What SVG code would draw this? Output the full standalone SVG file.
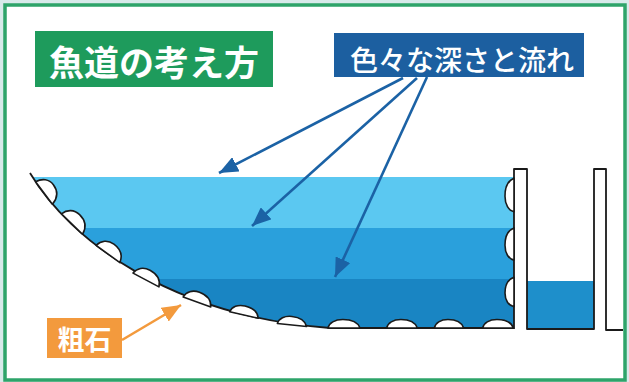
<svg xmlns="http://www.w3.org/2000/svg" xmlns:xlink="http://www.w3.org/1999/xlink" width="629" height="382" viewBox="0 0 629 382">
  <style>
    .jp { font-family: "Noto Sans CJK JP", "Noto Sans CJK SC", sans-serif; fill: #ffffff; }
    .outline { fill: none; stroke: #1a1a1a; stroke-width: 1.8; stroke-linejoin: round; }
    .stone { fill: #ffffff; stroke: #1a1a1a; stroke-width: 1.6; stroke-linejoin: round; vector-effect: non-scaling-stroke; }
    .blue-arrow { stroke: #1b62a5; stroke-width: 2.6; fill: none; marker-end: url(#head-blue); }
    .orange-arrow { stroke: #f39a3d; stroke-width: 2.6; fill: none; marker-end: url(#head-orange); }
  </style>
  <defs>
    <marker id="head-blue" markerUnits="userSpaceOnUse" markerWidth="20" markerHeight="16" refX="19" refY="8" orient="auto">
      <path d="M0,0 L19,8 L0,16 Z" fill="#1b62a5"/>
    </marker>
    <marker id="head-orange" markerUnits="userSpaceOnUse" markerWidth="20" markerHeight="16" refX="19" refY="8" orient="auto">
      <path d="M0,0 L19,8 L0,16 Z" fill="#f39a3d"/>
    </marker>
    <!-- a rounded boulder, flat side on the local x axis, bulging towards -y -->
    <path id="stone" class="stone" d="M-14,0 C-13,-6 -8,-10 -1,-10 C6,-10 12,-7 14,0 Z"/>
    <!-- region below the bank slope, used to trim the water bands -->
    <clipPath id="channel">
      <path d="M30,173 C70,240 170,316 330,328 L514,328 L514,150 L20,150 Z"/>
    </clipPath>
  </defs>

  <!-- page and frame -->
  <rect x="0" y="0" width="629" height="382" fill="#d8eaea"/>
  <rect x="5" y="5" width="620" height="375" fill="#ffffff" stroke="#2ea46a" stroke-width="3.5"/>

  <!-- water layers -->
  <g id="water" clip-path="url(#channel)">
    <rect x="20" y="177" width="494" height="51" fill="#5bc8f1"/>
    <rect x="20" y="228" width="494" height="51" fill="#2aa0dc"/>
    <rect x="20" y="279" width="494" height="50" fill="#1985c3"/>
  </g>
  <rect id="basin-water" x="527" y="281" width="67" height="47" fill="#1e8fcb"/>

  <!-- bank, bed and weir walls -->
  <g id="bank">
    <path class="outline" d="M30,173 C70,240 170,316 330,328 L514,328"/>
    <path class="outline" d="M514,329 L514,169 L527,169 L527,329 L594,329 L594,169 L606,169 L606,330 L623,330"/>
  </g>

  <!-- rough stones along slope, bed and wall -->
  <g id="stones">
    <use xlink:href="#stone" href="#stone" transform="translate(44,193) rotate(53) scale(1,1.25)"/>
    <use xlink:href="#stone" href="#stone" transform="translate(72,224) rotate(44) scale(1.05,1.2)"/>
    <use xlink:href="#stone" href="#stone" transform="translate(108,254) rotate(36) scale(1.05,1.15)"/>
    <use xlink:href="#stone" href="#stone" transform="translate(146,280) rotate(28) scale(1.05,1.05)"/>
    <use xlink:href="#stone" href="#stone" transform="translate(197,302) rotate(20) scale(1.05,1)"/>
    <use xlink:href="#stone" href="#stone" transform="translate(244,315) rotate(13) scale(1.05,0.9)"/>
    <use xlink:href="#stone" href="#stone" transform="translate(292,325) rotate(6) scale(1.05,0.85)"/>
    <use xlink:href="#stone" href="#stone" transform="translate(344,328) scale(1.15,0.85)"/>
    <use xlink:href="#stone" href="#stone" transform="translate(402,328) scale(1.1,0.85)"/>
    <use xlink:href="#stone" href="#stone" transform="translate(449,328) scale(1.05,0.85)"/>
    <use xlink:href="#stone" href="#stone" transform="translate(498,328) scale(1.1,0.85)"/>
    <use xlink:href="#stone" href="#stone" transform="translate(514,195) rotate(-90) scale(1.2,0.9)"/>
    <use xlink:href="#stone" href="#stone" transform="translate(514,244) rotate(-90) scale(1.15,0.9)"/>
    <use xlink:href="#stone" href="#stone" transform="translate(514,292) rotate(-90) scale(1.05,0.9)"/>
  </g>

  <!-- labels -->
  <g id="title">
    <rect x="35" y="31" width="238" height="56" fill="#1e9b5c"/>
    <text class="jp" x="154" y="60" font-size="35" font-weight="700" text-anchor="middle" dominant-baseline="central">魚道の考え方</text>
  </g>
  <g id="depth-label">
    <rect x="334" y="33" width="250" height="44" fill="#1c5fa0"/>
    <text class="jp" x="462" y="59" font-size="28" font-weight="500" text-anchor="middle" dominant-baseline="central">色々な深さと流れ</text>
  </g>
  <g id="stone-label">
    <rect x="47" y="318" width="75" height="40" fill="#f39a3d"/>
    <text class="jp" x="84.5" y="338" font-size="27" font-weight="700" text-anchor="middle" dominant-baseline="central">粗石</text>
  </g>

  <!-- connectors -->
  <g id="connectors">
    <line class="blue-arrow" x1="403" y1="78" x2="219" y2="173"/>
    <line class="blue-arrow" x1="417" y1="78" x2="252" y2="226"/>
    <line class="blue-arrow" x1="427" y1="77" x2="335" y2="277"/>
    <line class="orange-arrow" x1="122" y1="340" x2="181" y2="305"/>
  </g>
</svg>
